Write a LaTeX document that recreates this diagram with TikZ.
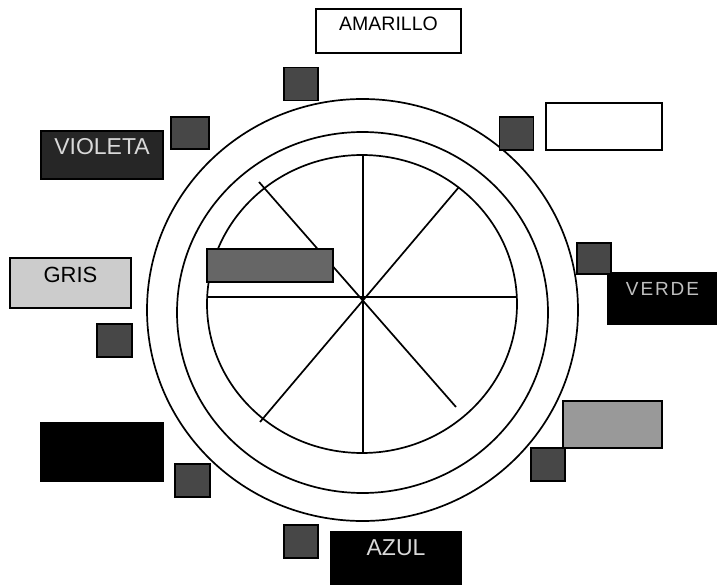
\documentclass[tikz,border=0pt]{standalone}
\usepackage{fontspec}
\setmainfont{Liberation Sans}
\usepackage{xcolor}
\usepackage{tikz}
\definecolor{ChipGray}{gray}{0.28}

\begin{document}
\begin{tikzpicture}[x=1pt, y=-1pt, line width=1.7pt]
    \tikzstyle{tag}=[draw, line width=1.5pt, inner sep=0pt, align=center]
    \tikzstyle{chip}=[draw, line width=1.5pt, fill=ChipGray, inner sep=0pt,
                      minimum width=34, minimum height=33]
    \useasboundingbox (0,0) rectangle (717,585);

    % rings
    \coordinate (ring) at (362.5,310);
    \draw (ring) ellipse [x radius=215.5, y radius=211];
    \draw (362.5,312.5) ellipse [x radius=185.5, y radius=180.5];
    \draw (362,304) ellipse [x radius=155, y radius=149];

    % spokes
    \coordinate (west) at (207,297);
    \coordinate (east) at (517,297);
    \coordinate (north) at (363,155);
    \coordinate (south) at (363,453);
    \coordinate (nw) at (259,182);
    \coordinate (se) at (456,407);
    \coordinate (ne) at (459,187);
    \coordinate (sw) at (260,422);
    \draw (west) -- (east);
    \draw (north) -- (south);
    \draw (nw) -- (se);
    \draw (ne) -- (sw);

    % colour tags
    \node[tag, fill=white, minimum width=145, text height=22, text depth=22,
          font=\fontsize{19.5}{22}\selectfont] (amarillo) at (388.5,31) {AMARILLO};
    \node[tag, fill=white, minimum width=116, minimum height=47] (blank) at (604,126.5) {};
    \node[tag, fill=black!85, text=white!85!black, minimum width=122,
          text height=24, text depth=24, font=\fontsize{23}{25}\selectfont] (violeta) at (102,155) {VIOLETA};
    \node[tag, fill=black!20, minimum width=121, text height=25, text depth=25,
          font=\fontsize{22}{24}\selectfont] (gris) at (70.5,283) {GRIS};
    \node[tag, fill=black!60, minimum width=126, minimum height=33] (centre) at (270,265.5) {};
    \node[tag, fill=black, text=black!25, minimum width=109, text height=22, text depth=29,
          font=\fontsize{19}{21}\selectfont\addfontfeature{LetterSpace=10}] (verde) at (662.5,298.5) {VERDE};
    \node[tag, fill=black!40, minimum width=99, minimum height=47] (pale) at (612.5,424.5) {};
    \node[tag, fill=black, minimum width=122, minimum height=58] (dark) at (102,452) {};
    \node[tag, fill=black, text=black!15, minimum width=130, text height=23, text depth=30,
          font=\fontsize{23}{25}\selectfont] (azul) at (396,558.5) {AZUL};

    % small squares
    \node[chip] (chipN) at (301,84) {};
    \node[chip] (chipNE) at (516.5,133.5) {};
    \node[chip, minimum width=38, minimum height=32] (chipNW) at (190,133) {};
    \node[chip, minimum height=31] (chipE) at (594,258.5) {};
    \node[chip, minimum width=35] (chipW) at (114.5,340.5) {};
    \node[chip] (chipSE) at (548,464.5) {};
    \node[chip, minimum width=35] (chipSW) at (192.5,480.5) {};
    \node[chip] (chipS) at (301,541.5) {};

  \end{tikzpicture}
\end{document}
